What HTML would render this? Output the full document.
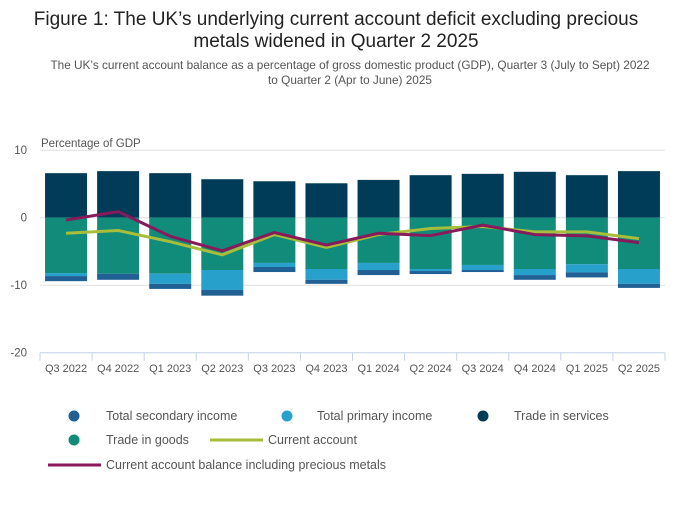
<!DOCTYPE html>
<html><head><meta charset="utf-8"><style>
body{margin:0;background:#fff;font-family:"Liberation Sans",sans-serif;}
svg text{font-family:"Liberation Sans",sans-serif;}
</style></head><body>
<svg id="chart" width="700" height="502" xmlns="http://www.w3.org/2000/svg">
<text x="336" y="25" text-anchor="middle" font-size="19" fill="#222">Figure 1: The UK’s underlying current account deficit excluding precious</text>
<text x="336" y="47" text-anchor="middle" font-size="19" fill="#222">metals widened in Quarter 2 2025</text>
<text x="350" y="69" text-anchor="middle" font-size="11.8" fill="#555">The UK’s current account balance as a percentage of gross domestic product (GDP), Quarter 3 (July to Sept) 2022</text>
<text x="350" y="84" text-anchor="middle" font-size="11.8" fill="#555">to Quarter 2 (Apr to June) 2025</text>
<text x="41" y="147" font-size="11.5" fill="#555">Percentage of GDP</text>
<g id="grid"></g><g id="bars"></g><g id="lines"></g><g id="axes"></g>
<g>
<circle cx="74" cy="416" r="5.5" fill="#206095"/>
<text x="106" y="420" font-size="12.5" fill="#555">Total secondary income</text>
<circle cx="287" cy="416" r="5.5" fill="#27a0cc"/>
<text x="317" y="420" font-size="12.5" fill="#555">Total primary income</text>
<circle cx="483" cy="416" r="5.5" fill="#003c57"/>
<text x="514" y="420" font-size="12.5" fill="#555">Trade in services</text>
<circle cx="74" cy="440" r="5.5" fill="#118c7b"/>
<text x="106" y="444" font-size="12.5" fill="#555">Trade in goods</text>
<line x1="210" y1="440" x2="263" y2="440" stroke="#a8bd3a" stroke-width="3"/>
<text x="268" y="444" font-size="12.5" fill="#555">Current account</text>
<line x1="48" y1="465" x2="101" y2="465" stroke="#871a5b" stroke-width="3"/>
<text x="106" y="469" font-size="12.5" fill="#555">Current account balance including precious metals</text>
</g>
</svg>
<script>
const categories=["Q3 2022","Q4 2022","Q1 2023","Q2 2023","Q3 2023","Q4 2023","Q1 2024","Q2 2024","Q3 2024","Q4 2024","Q1 2025","Q2 2025"];
const services=[6.6,6.9,6.6,5.7,5.4,5.1,5.6,6.3,6.5,6.8,6.3,6.9];
const goods=[-8.2,-8.3,-8.3,-7.75,-6.7,-7.6,-6.7,-7.6,-7.0,-7.6,-6.9,-7.6];
const primary=[-0.45,0,-1.5,-2.95,-0.6,-1.6,-1.05,-0.3,-0.75,-0.9,-1.2,-2.2];
const secondary=[-0.75,-0.9,-0.75,-0.85,-0.75,-0.6,-0.75,-0.45,-0.3,-0.7,-0.75,-0.6];
const currentAccount=[-2.3,-1.9,-3.55,-5.5,-2.5,-4.4,-2.5,-1.6,-1.3,-2.1,-2.1,-3.1];
const inclPreciousMetals=[-0.35,0.9,-2.75,-4.9,-2.2,-4.05,-2.3,-2.65,-1.1,-2.5,-2.7,-3.7];
const yTicks=[10,0,-10,-20];
const NS="http://www.w3.org/2000/svg";
const x0=40,x1=665,band=(x1-x0)/categories.length,barW=42;
function y(v){return 217.7-v*6.75;}
function xc(i){return x0+band*(i+0.5);}
function mk(tag,attrs,parent){const e=document.createElementNS(NS,tag);for(const k in attrs)e.setAttribute(k,attrs[k]);document.getElementById(parent).appendChild(e);return e;}
yTicks.forEach(t=>{
  if(t>-20){const l=mk('line',{x1:x0,x2:x1,y1:y(t),y2:y(t),stroke:'#e0e0e0','stroke-width':1},'grid');
  
  }
  const tx=mk('text',{x:27,y:y(t)+4,'text-anchor':'end','font-size':11.5,fill:'#555'},'axes');tx.textContent=t;
  
  
});
const ax=mk('line',{x1:x0,x2:x1,y1:y(-20),y2:y(-20),stroke:'#c3d2e6','stroke-width':1},'axes');


for(let i=0;i<=categories.length;i++){const tk=mk('line',{x1:x0+band*i,x2:x0+band*i,y1:y(-20),y2:y(-20)+8,stroke:'#c3d2e6'},'axes');

}
categories.forEach((c,i)=>{
  const tx=mk('text',{x:xc(i),y:372,'text-anchor':'middle','font-size':11,fill:'#555'},'axes');tx.textContent=c;
  
  
  const bx=xc(i)-barW/2;
  const r1=mk('rect',{x:bx,y:y(services[i]),width:barW,height:y(0)-y(services[i]),fill:'#003c57'},'bars');
  
  
  let base=0;
  [[goods,'#118c7b','bar-goods'],[primary,'#27a0cc','bar-primary-income'],[secondary,'#206095','bar-secondary-income']].forEach(([arr,col,nm])=>{
    const v=arr[i];const r=mk('rect',{x:bx,y:y(base),width:barW,height:Math.max(0,y(base+v)-y(base)),fill:col},'bars');
    
    
    base+=v;
  });
});
function line(arr,col,nm){
  const p=mk('polyline',{points:arr.map((v,i)=>xc(i)+','+y(v)).join(' '),fill:'none',stroke:col,'stroke-width':3,'stroke-linejoin':'round'},'lines');
  
  
}
line(currentAccount,'#a8bd3a','line-current-account');
line(inclPreciousMetals,'#871a5b','line-including-precious-metals');
</script>
</body></html>
